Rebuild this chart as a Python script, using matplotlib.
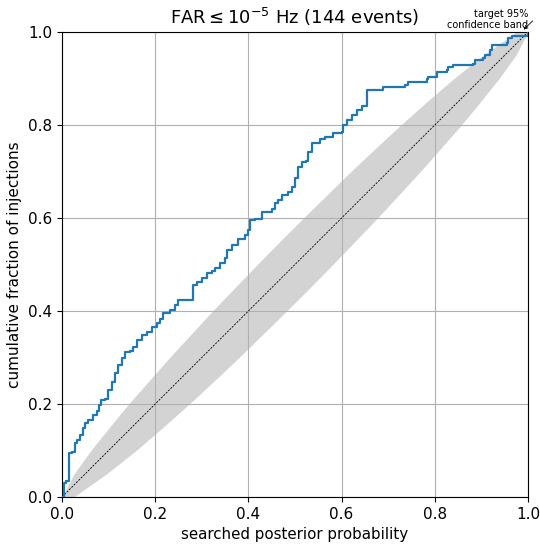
import numpy as np
import matplotlib
matplotlib.use('Agg')
import matplotlib.pyplot as plt

# searched posterior probability vs cumulative fraction (step corners)
pp_x = [0.000, 0.004, 0.009, 0.015, 0.021, 0.028, 0.032, 0.039, 0.045, 0.049,
        0.056, 0.067, 0.075, 0.079, 0.084, 0.092, 0.099, 0.107, 0.114, 0.120,
        0.129, 0.135, 0.146, 0.152, 0.161, 0.172, 0.182, 0.193, 0.204, 0.210,
        0.217, 0.232, 0.242, 0.249, 0.279, 0.281, 0.290, 0.300, 0.311, 0.322,
        0.328, 0.339, 0.350, 0.354, 0.365, 0.378, 0.393, 0.399, 0.403, 0.414,
        0.429, 0.451, 0.457, 0.464, 0.472, 0.485, 0.494, 0.500, 0.506, 0.515,
        0.524, 0.528, 0.536, 0.554, 0.564, 0.582, 0.601, 0.603, 0.612, 0.622,
        0.633, 0.644, 0.654, 0.689, 0.736, 0.742, 0.783, 0.785, 0.805, 0.826,
        0.828, 0.839, 0.882, 0.886, 0.903, 0.908, 0.918, 0.923, 0.955, 0.957,
        0.966, 1.000, 1.000]
pp_y = [0.000, 0.030, 0.034, 0.095, 0.097, 0.116, 0.123, 0.133, 0.148, 0.159,
        0.166, 0.176, 0.185, 0.198, 0.209, 0.211, 0.230, 0.247, 0.267, 0.284,
        0.299, 0.312, 0.314, 0.323, 0.338, 0.348, 0.355, 0.366, 0.374, 0.383,
        0.396, 0.402, 0.413, 0.424, 0.424, 0.456, 0.462, 0.471, 0.482, 0.486,
        0.492, 0.503, 0.514, 0.531, 0.542, 0.555, 0.563, 0.574, 0.596, 0.598,
        0.613, 0.619, 0.632, 0.639, 0.649, 0.656, 0.667, 0.686, 0.710, 0.720,
        0.723, 0.742, 0.761, 0.770, 0.774, 0.783, 0.785, 0.800, 0.811, 0.822,
        0.832, 0.841, 0.875, 0.882, 0.886, 0.892, 0.899, 0.903, 0.914, 0.918,
        0.925, 0.929, 0.931, 0.940, 0.944, 0.951, 0.961, 0.972, 0.976, 0.987,
        0.991, 0.991, 1.000]

# 95% target band: x-extent at each cumulative-fraction level
band_y = [0.00, 0.05, 0.10, 0.15, 0.20, 0.25, 0.30, 0.35, 0.40, 0.45, 0.50,
          0.55, 0.60, 0.65, 0.70, 0.75, 0.80, 0.85, 0.90, 0.95, 1.00]
band_lo = [0.000, 0.026, 0.062, 0.102, 0.143, 0.187, 0.231, 0.277, 0.323, 0.371, 0.419,
           0.468, 0.518, 0.569, 0.620, 0.673, 0.727, 0.783, 0.841, 0.904, 0.975]
band_hi = [0.025, 0.096, 0.159, 0.217, 0.273, 0.327, 0.380, 0.431, 0.482, 0.532, 0.581,
           0.629, 0.677, 0.723, 0.769, 0.813, 0.857, 0.898, 0.938, 0.974, 1.000]

fig = plt.figure(figsize=(5.4, 5.49), dpi=100)
ax = fig.add_axes([62/540, 52/549, 466/540, 465/549])

ax.fill_betweenx(band_y, band_lo, band_hi, color='lightgray', lw=0, zorder=1)
ax.plot([0, 1], [0, 1], color='black', lw=0.6, ls=(0, (2.5, 1.5)), zorder=2)
ax.plot(pp_x, pp_y, drawstyle='steps-post', color='#1f77b4', lw=1.6, zorder=3)

ax.set_xlim(0, 1)
ax.set_ylim(0, 1)
ax.set_xticks(np.arange(0, 1.01, 0.2))
ax.set_yticks(np.arange(0, 1.01, 0.2))
ax.tick_params(labelsize=11)
ax.grid(True, color='#b0b0b0', lw=0.8)
ax.set_xlabel('searched posterior probability', fontsize=10.8)
ax.set_ylabel('cumulative fraction of injections', fontsize=11)

# band annotation, small arrow tucked at the end of the text
ax.text(1.0, 1.004, 'target 95%\nconfidence band', transform=ax.transAxes,
        ha='right', va='bottom', fontsize=7, multialignment='right')
ax.annotate('', xy=(0.991, 1.005), xycoords='axes fraction',
            xytext=(6.5, 6.2), textcoords='offset points',
            arrowprops=dict(arrowstyle='->', shrinkA=0, shrinkB=0, linewidth=0.6,
                            mutation_scale=6,
                            connectionstyle='angle,angleA=0,angleB=45,rad=0'),
            annotation_clip=False)

ax.set_title(r'FAR$\leq10^{-5}$ Hz (144 events)', fontsize=13)

plt.savefig('out.png', dpi=100)
